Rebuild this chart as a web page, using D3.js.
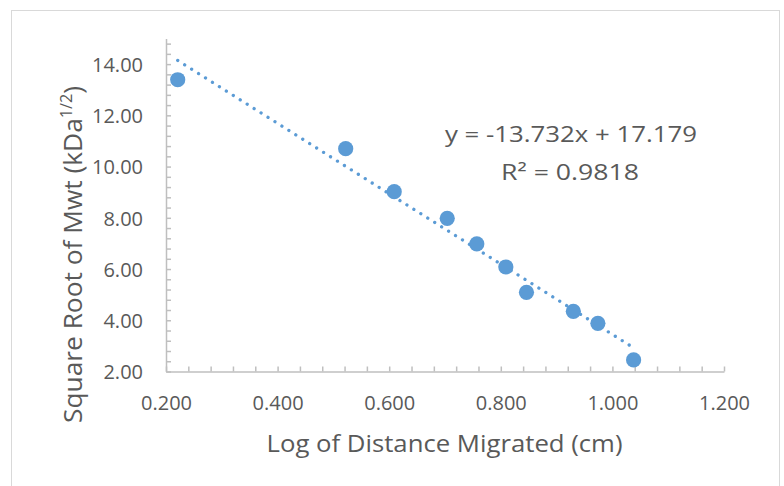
<!DOCTYPE html>
<html>
<head>
<meta charset="utf-8">
<script src="https://cdn.jsdelivr.net/npm/d3@7"></script>
<style>
    body { margin: 0; background: #fff; }
    svg text { font-family: "Open Sans", sans-serif; fill: #595959; }
</style>
</head>
<body>
<div id="wrapper"></div>
<script>
// log of distance migrated (cm)
const logDist = [0.221, 0.522, 0.609, 0.704, 0.757, 0.809, 0.846, 0.930, 0.974, 1.038]
// square root of molecular weight
const sqrtMwt = [13.39, 10.70, 9.02, 7.98, 6.98, 6.08, 5.09, 4.35, 3.88, 2.45]

const xTicks = [0.2, 0.4, 0.6, 0.8, 1.0, 1.2]
const yTicks = [2, 4, 6, 8, 10, 12, 14]

// trendline from the chart label
const slope = -13.732
const intercept = 17.179
const eqLabel = "y = -13.732x + 17.179"
const r2Label = "R² = 0.9818"

const width = 784, height = 486
const blue = "#5B9BD5"
const axisColor = "#BFBFBF"

const svg = d3.select("#wrapper")
    .append("svg")
    .attr("width", width)
    .attr("height", height)

// outer chart border
svg.append("rect")
    .attr("x", 11.5)
    .attr("y", 10.5)
    .attr("width", 768)
    .attr("height", 500)
    .attr("fill", "none")
    .attr("stroke", "#D9D9D9")

const x = d3.scaleLinear()
    .domain([0.2, 1.2])
    .range([166, 724])

const y = d3.scaleLinear()
    .domain([2, 15])
    .range([371.5, 38.5])

const xMinor = d3.range(0, 26).map(i => 0.2 + i * 0.04)
const yMinor = d3.range(0, 33).map(i => 2 + i * 0.4)

// x axis - minor ticks pointing up
const gx = svg.append("g")
    .attr("transform", `translate(0, ${y(2)})`)
    .call(d3.axisBottom(x).tickValues(xMinor).tickSizeInner(-5).tickSizeOuter(0).tickFormat(""))
gx.selectAll("path, line").attr("stroke", axisColor).attr("stroke-width", 1.5)

const gxl = svg.append("g")
    .attr("transform", `translate(0, ${y(2)})`)
    .call(d3.axisBottom(x).tickValues(xTicks).tickSize(0).tickFormat(d3.format(".3f")))
gxl.select(".domain").remove()
gxl.selectAll("text")
    .attr("y", 38.5)
    .attr("dy", 0)
    .style("font-size", "20px")
    .style("font-family", "'Open Sans', sans-serif")
    .attr("fill", "#595959")

// y axis - minor ticks pointing right
const gy = svg.append("g")
    .attr("transform", `translate(${x(0.2)}, 0)`)
    .call(d3.axisLeft(y).tickValues(yMinor).tickSizeInner(-5).tickSizeOuter(0).tickFormat(""))
gy.selectAll("path, line").attr("stroke", axisColor).attr("stroke-width", 1.5)

const gyl = svg.append("g")
    .attr("transform", `translate(${x(0.2)}, 0)`)
    .call(d3.axisLeft(y).tickValues(yTicks).tickSize(0).tickFormat(d3.format(".2f")))
gyl.select(".domain").remove()
gyl.selectAll("text")
    .attr("x", -23)
    .attr("dy", "0.36em")
    .style("font-size", "20px")
    .style("font-family", "'Open Sans', sans-serif")
    .attr("fill", "#595959")

// dotted trendline over the data range
const x0 = d3.min(logDist), x1 = d3.max(logDist)
svg.append("line")
    .attr("x1", x(x0))
    .attr("y1", y(slope * x0 + intercept))
    .attr("x2", x(x1))
    .attr("y2", y(slope * x1 + intercept))
    .attr("stroke", blue)
    .attr("stroke-width", 3.3)
    .attr("stroke-linecap", "round")
    .attr("stroke-dasharray", "0.01 8.2")

// markers
svg.selectAll(".pt")
    .data(logDist)
    .enter()
    .append("circle")
    .attr("class", "pt")
    .attr("cx", d => x(d))
    .attr("cy", (d, i) => y(sqrtMwt[i]))
    .attr("r", 7.6)
    .attr("fill", blue)

// equation label
svg.append("text")
    .attr("x", 571)
    .attr("y", 142)
    .attr("text-anchor", "middle")
    .attr("textLength", 252)
    .attr("lengthAdjust", "spacingAndGlyphs")
    .style("font-size", "22px")
    .text(eqLabel)

svg.append("text")
    .attr("x", 570)
    .attr("y", 180)
    .attr("text-anchor", "middle")
    .attr("textLength", 138)
    .attr("lengthAdjust", "spacingAndGlyphs")
    .style("font-size", "22px")
    .text(r2Label)

// axis titles
svg.append("text")
    .attr("x", 444.5)
    .attr("y", 452)
    .attr("text-anchor", "middle")
    .attr("textLength", 356)
    .attr("lengthAdjust", "spacingAndGlyphs")
    .style("font-size", "23px")
    .text("Log of Distance Migrated (cm)")

const yTitle = svg.append("text")
    .attr("transform", "translate(82, 254.5) rotate(-90)")
    .attr("text-anchor", "middle")
    .attr("textLength", 337)
    .attr("lengthAdjust", "spacingAndGlyphs")
    .style("font-size", "26px")
yTitle.append("tspan").text("Square Root of Mwt (kDa")
yTitle.append("tspan")
    .attr("dy", -10)
    .style("font-size", "16px")
    .text("1/2")
yTitle.append("tspan")
    .attr("dy", 10)
    .text(")")
</script>
</body>
</html>
